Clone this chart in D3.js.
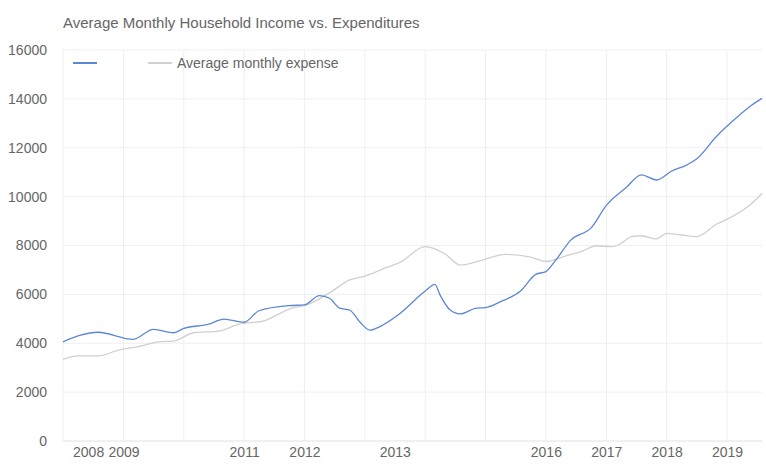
<!DOCTYPE html>
<html>
<head>
<meta charset="utf-8">
<script src="https://cdn.jsdelivr.net/npm/d3@7"></script>
<style>
	body { margin: 0; background: #fff; }
	svg { display: block; font-family: "Liberation Sans", Arial, sans-serif; }
</style>
</head>
<body>
<div id="chart"></div>
<script>
const titleText = "Average Monthly Household Income vs. Expenditures";
const seriesNames = ["", "Average monthly expense"];

const incomeDates = ["2008-01","2008-08","2009-03","2009-07","2009-11","2010-01","2010-06","2010-09","2011-01","2011-04","2011-10","2012-01","2012-04","2012-06","2012-08","2012-10","2012-12","2013-02","2013-04","2013-08","2014-01","2014-03","2014-04","2014-06","2014-08","2014-11","2015-01","2015-04","2015-08","2015-11","2016-01","2016-03","2016-06","2016-10","2017-01","2017-05","2017-08","2017-11","2018-02","2018-05","2018-07","2018-11","2019-02","2019-06","2019-08"];
const incomeValues = [4060,4450,4160,4570,4430,4610,4780,4990,4860,5330,5540,5570,5950,5840,5440,5360,4870,4540,4680,5220,6140,6410,5970,5360,5200,5430,5460,5700,6140,6820,6930,7400,8230,8720,9640,10370,10890,10680,11050,11290,11540,12480,13070,13750,14020];

const spendDates = ["2008-01","2008-04","2008-08","2008-12","2009-04","2009-08","2009-11","2010-03","2010-08","2010-12","2011-05","2011-11","2012-01","2012-06","2012-10","2013-01","2013-05","2013-08","2014-01","2014-05","2014-08","2014-12","2015-05","2015-10","2016-01","2016-05","2016-08","2016-11","2017-02","2017-04","2017-06","2017-08","2017-11","2018-01","2018-04","2018-07","2018-11","2019-02","2019-06","2019-08"];
const spendValues = [3340,3480,3480,3720,3860,4060,4090,4430,4500,4780,4920,5470,5540,6060,6590,6750,7070,7310,7950,7650,7200,7380,7640,7520,7350,7580,7750,7990,7950,8090,8360,8400,8270,8500,8430,8360,8880,9180,9730,10140];

const yTicks = [0,2000,4000,6000,8000,10000,12000,14000,16000];
const xTickDates = ["2008-06","2009-01","2011-01","2012-01","2013-07","2016-01","2017-01","2018-01","2019-01"];
const xTickLabels = ["2008","2009","2011","2012","2013","2016","2017","2018","2019"];
const gridYears = ["2009","2010","2011","2012","2013","2014","2015","2016","2017","2018","2019"];

const colors = ["#5b87d4", "#d0d0d0"];

function lineChart(selector) {
	const width = 766, height = 473;
	const margin = { top: 50, right: 4, bottom: 32, left: 63 };
	const parseMonth = d3.timeParse("%Y-%m");

	const svg = d3.select(selector)
		.append("svg")
		.attr("width", width)
		.attr("height", height)

	const x = d3.scaleTime()
		.domain([parseMonth(incomeDates[0]), parseMonth(incomeDates[incomeDates.length - 1])])
		.range([margin.left, width - margin.right])
	const y = d3.scaleLinear()
		.domain([0, 16000])
		.range([height - margin.bottom, margin.top])

	// grid lines
	svg.append("g")
		.selectAll("line")
		.data(yTicks)
		.join("line")
		.attr("x1", margin.left).attr("x2", width - margin.right)
		.attr("y1", d => y(d)).attr("y2", d => y(d))
		.attr("stroke", d => d === 0 ? "#e2e2e2" : "#efefef")

	svg.append("g")
		.selectAll("line")
		.data([incomeDates[0]].concat(gridYears.map(d => d + "-01")))
		.join("line")
		.attr("x1", d => x(parseMonth(d))).attr("x2", d => x(parseMonth(d)))
		.attr("y1", y(16000)).attr("y2", y(0))
		.attr("stroke", "#efefef")

	// axes
	const yAxis = svg.append("g")
		.attr("transform", `translate(${margin.left - 13},0)`)
		.call(d3.axisLeft(y).tickValues(yTicks).tickSize(0).tickFormat(d3.format("d")))
	yAxis.select(".domain").remove()
	yAxis.selectAll("text").attr("fill", "#666").style("font-size", "14px")

	const xAxis = svg.append("g")
		.attr("transform", `translate(0,${height - margin.bottom})`)
		.call(d3.axisBottom(x)
			.tickValues(xTickDates.map(parseMonth))
			.tickSize(0)
			.tickFormat((d, i) => xTickLabels[i]))
	xAxis.select(".domain").remove()
	xAxis.selectAll("text").attr("fill", "#666").attr("dy", "0.95em").style("font-size", "14px")

	// lines
	const series = [
		{ dates: incomeDates, values: incomeValues },
		{ dates: spendDates, values: spendValues }
	];
	const line = d3.line()
		.x(d => x(d.date))
		.y(d => y(d.value))
		.curve(d3.curveMonotoneX)

	series.slice().reverse().forEach((s, i) => {
		const points = s.dates.map((d, j) => ({ date: parseMonth(d), value: s.values[j] }));
		svg.append("path")
			.datum(points)
			.attr("fill", "none")
			.attr("stroke", colors[series.length - 1 - i])
			.attr("stroke-width", 1.3)
			.attr("d", line)
	})

	// title
	svg.append("text")
		.attr("x", margin.left)
		.attr("y", 28)
		.attr("fill", "#666")
		.style("font-size", "15px")
		.text(titleText)

	// legend
	const legendX = [73, 148];
	const legend = svg.append("g")
		.selectAll("g")
		.data(seriesNames)
		.join("g")
		.attr("transform", (d, i) => `translate(${legendX[i]},63)`)
	legend.append("line")
		.attr("x1", 0).attr("x2", 24)
		.attr("stroke", (d, i) => colors[i])
		.attr("stroke-width", 2)
	legend.append("text")
		.attr("x", 29)
		.attr("dy", "0.35em")
		.attr("fill", "#666")
		.style("font-size", "14px")
		.text(d => d)
}

lineChart("#chart");
</script>
</body>
</html>
